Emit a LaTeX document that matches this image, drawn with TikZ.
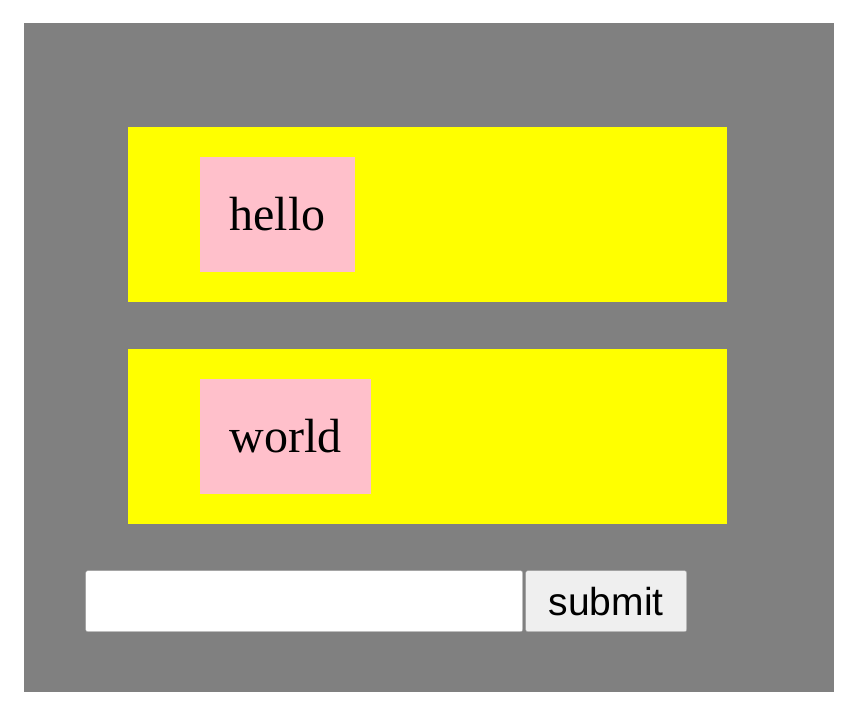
\documentclass[tikz,border=0pt]{standalone}
\usepackage{fontspec}
\setmainfont{Liberation Serif}
\setsansfont{Liberation Sans}
\definecolor{pagegray}{HTML}{808080}
\definecolor{boxyellow}{HTML}{FFFF00}
\definecolor{labelpink}{HTML}{FFC0CB}
\definecolor{buttongray}{HTML}{EFEFEF}
\definecolor{framegray}{HTML}{9A9A9A}
\tikzset{
    rowbox/.style={fill=boxyellow, anchor=north west, inner sep=0pt, outer sep=0pt,
        minimum width=599pt, minimum height=175pt},
    labelbox/.style={fill=labelpink, anchor=north west, inner sep=0pt, outer sep=0pt,
        minimum height=115pt, font=\fontsize{48}{56}\selectfont},
    inputbox/.style={fill=white, draw=framegray, rounded corners=2pt, anchor=north west,
        inner sep=0pt, minimum width=437pt, minimum height=61pt},
    buttonbox/.style={fill=buttongray, draw=framegray, rounded corners=2pt, anchor=north west,
        inner sep=0pt, minimum width=161pt, minimum height=61pt,
        font=\sffamily\fontsize{39}{46}\selectfont}
}
\begin{document}
\begin{tikzpicture}[x=1pt, y=-1pt]
            \useasboundingbox (0, 0) rectangle (861, 718);
            \fill[pagegray] (24, 23) rectangle (834, 692);
            \node[rowbox] (row1) at (128, 127) {};
            \node[rowbox] (row2) at (128, 349) {};
            \node[labelbox, minimum width=155pt] (hello) at (200, 157) {hello};
            \node[labelbox, minimum width=171pt] (world) at (200, 379) {world};
            \node[inputbox] (field) at (85.5, 570.5) {};
            \node[buttonbox] (submit) at (525.5, 570.5) {submit};
        \end{tikzpicture}
\end{document}
